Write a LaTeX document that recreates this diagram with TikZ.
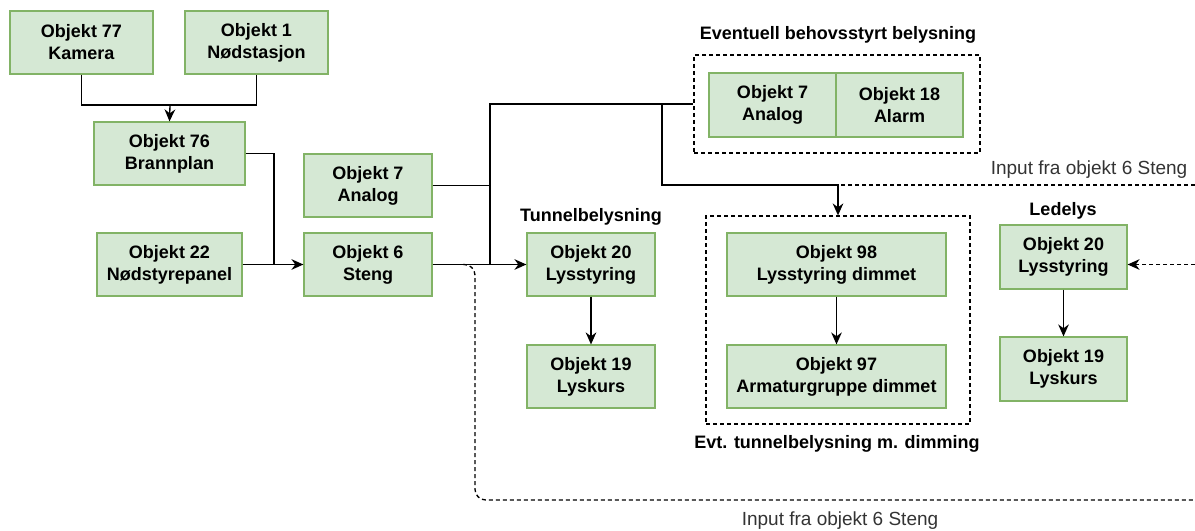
\documentclass[tikz,border=0pt]{standalone}
\usepackage{fontspec}
\setmainfont{Liberation Sans}
\usetikzlibrary{arrows.meta}
\definecolor{objfill}{HTML}{D5E8D4}
\definecolor{objline}{HTML}{82B366}
\begin{document}
\begin{tikzpicture}[x=0.75pt, y=-0.75pt, node distance=84pt,
    obj/.style = {draw=objline, fill=objfill, line width=0.9pt, minimum width=96pt, minimum height=47.25pt, align=center, inner sep=0pt, font=\fontsize{13.5}{16.5}\selectfont\bfseries},
    grp/.style = {draw, line width=0.9pt, dash pattern=on 3pt off 2.25pt, minimum width=#1},
    head/.style = {font=\fontsize{13.5}{16.5}\selectfont\bfseries},
    note/.style = {font=\fontsize{14.25}{17}\selectfont, text=black!80},
    link/.style = {line width=1pt},
    arr/.style = {link, -{Stealth[length=9pt, width=8pt]}},
    dlink/.style = {link, dash pattern=on 3pt off 2.25pt}]
        \useasboundingbox (0,0) rectangle (1195,531);
        % brann og nødstyring
        \node[obj, minimum width=107.25pt] (kamera) at (81.5,42.5) {Objekt 77\\Kamera};
        \node[obj, minimum width=107.25pt] (nodstasjon) at (256.5,42.5) {Objekt 1\\Nødstasjon};
        \node[obj, minimum width=113.25pt] (brannplan) at (169.5,153.5) {Objekt 76\\Brannplan};
        \node[obj, minimum width=108.75pt] (panel) at (169.5,264.5) {Objekt 22\\Nødstyrepanel};
        \node[obj] (analog) at (368,185.5) {Objekt 7\\Analog};
        \node[obj] (steng) at (368,264.5) {Objekt 6\\Steng};
        % tunnelbelysning
        \node[head] (tunlabel) at (591,217) {Tunnelbelysning};
        \node[obj] (lysstyring) at (591,264.5) {Objekt 20\\Lysstyring};
        \node[obj] (lyskurs) [below of=lysstyring] {Objekt 19\\Lyskurs};
        % behovsstyrt
        \node[grp=214.5pt, minimum height=73.5pt] (evbox) at (837,104) {};
        \node[head] (evlabel) at (838,35) {Eventuell behovsstyrt belysning};
        \node[obj, minimum width=95.25pt, minimum height=48pt] (analogb) at (772.5,105) {Objekt 7\\Analog};
        \node[obj, minimum width=95.25pt, minimum height=48pt] (alarm) at (899.5,105) {Objekt 18\\Alarm};
        % dimming
        \node[grp=198pt, minimum height=156pt] (dimbox) at (838,320) {};
        \node[head] (dimlabel) at (837,444) {Evt. tunnelbelysning m. dimming};
        \node[obj, minimum width=164.25pt] (dimstyr) at (836.5,264.5) {Objekt 98\\Lysstyring dimmet};
        \node[obj, minimum width=164.25pt] (armatur) [below of=dimstyr] {Objekt 97\\Armaturgruppe dimmet};
        % ledelys
        \node[head] (ledlabel) at (1063,211) {Ledelys};
        \node[obj, minimum width=95.25pt, minimum height=48pt] (ledstyr) at (1063.5,257) {Objekt 20\\Lysstyring};
        \node[obj, minimum width=95.25pt, minimum height=48pt] (ledkurs) [below of=ledstyr] {Objekt 19\\Lyskurs};
        \node[note, anchor=east] (inAlabel) at (1192,170) {Input fra objekt 6 Steng};
        \node[note] (inClabel) at (840,521) {Input fra objekt 6 Steng};
        % punkter
        \coordinate (kn) at (170,105);
        \coordinate (j0) at (274,264.5);
        \coordinate (j1) at (490,264.5);
        \coordinate (j2) at (662,105);
        \coordinate (j3) at (838,185);
        \coordinate (s0) at (463,264.5);
        \coordinate (c0) at (475,500);
        \coordinate (inA) at (1195,185);
        \coordinate (inB) at (1195,264.5);
        \coordinate (inC) at (1195,500);
        % forbindelser
        \draw[link] (kamera.south) |- (kn) -| (nodstasjon.south);
        \draw[arr] (kn) -- (brannplan.north);
        \draw[link] (brannplan.east) -| (j0);
        \draw[arr] (panel.east) -- (steng.west);
        \draw[arr] (steng.east) -- (lysstyring.west);
        \draw[link] (analog.east) -- (analog.east -| j1);
        \draw[link] (j1) |- (evbox.west);
        \draw[arr] (j2) |- (j3) -- (dimbox.north);
        \draw[arr] (lysstyring) -- (lyskurs);
        \draw[arr] (dimstyr) -- (armatur);
        \draw[arr] (ledstyr) -- (ledkurs);
        \draw[dlink, rounded corners=6pt] (inA) -- (j3);
        \draw[dlink, -{Stealth[length=9pt, width=8pt]}] (inB) -- (inB -| ledstyr.east);
        \draw[dlink, rounded corners=8pt] (s0) -| (c0) -- (inC);
\end{tikzpicture}
\end{document}
